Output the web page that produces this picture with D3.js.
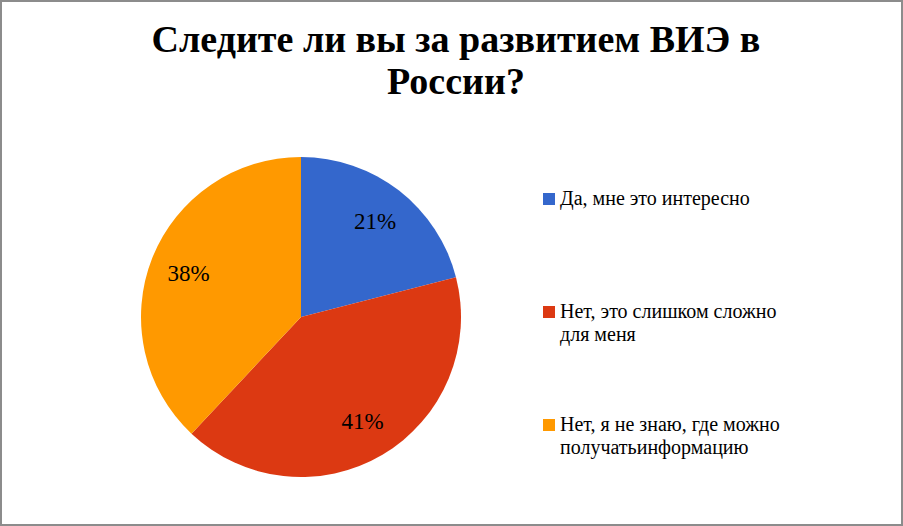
<!DOCTYPE html>
<html><head><meta charset="utf-8"><script src="https://cdn.jsdelivr.net/npm/d3@7"></script></head>
<body style="margin:0">
<svg class="chart"></svg>
<script>
// pie chart: Следите ли вы за развитием ВИЭ в России?

var categories = [
  ["Да, мне это интересно"],
  ["Нет, это слишком сложно", "для меня"],
  ["Нет, я не знаю, где можно", "получатьинформацию"]
];
var values = [21, 41, 38];
var colors = ["#3467CC", "#DC3912", "#FF9900"];
var titleLines = ["Следите ли вы за развитием ВИЭ в", "России?"];

var width = 903;
var height = 526;
var radius = 160;
var center = { x: 301, y: 317 };
var serif = function() { return "'Liberation Serif'" };

var data = values.map(function(v, i) { return { name: categories[i], value: v, color: colors[i] } });

var svg = d3.select(".chart")
  .attr("width", width)
  .attr("height", height);

// outer frame
svg.append("rect")
  .attr("x", 1)
  .attr("y", 1)
  .attr("width", width - 2)
  .attr("height", height - 2)
  .attr("fill", "#fff")
  .attr("stroke", "#8c8c8c")
  .attr("stroke-width", 2);

// title, one text per line
svg.selectAll(".title")
  .data(titleLines)
  .join("text")
  .attr("class", "title")
  .attr("x", 456)
  .attr("y", function(d, i) { return 52 + i * 42 })
  .attr("text-anchor", "middle")
  .attr("font-weight", "bold")
  .attr("font-size", 38)
  .style("font-family", serif)
  .text(function(d) { return d });

var pie = d3.pie()
  .sort(null)
  .value(function(d) { return d.value });

var arc = d3.arc().innerRadius(0).outerRadius(radius);
var labelArc = d3.arc().innerRadius(121).outerRadius(121);

var g = svg.append("g")
  .attr("transform", "translate(" + center.x + "," + center.y + ")");

var arcs = pie(data);

g.selectAll("path")
  .data(arcs)
  .join("path")
  .attr("d", arc)
  .attr("fill", function(d) { return d.data.color });

g.selectAll("text")
  .data(arcs)
  .join("text")
  .attr("transform", function(d) { return "translate(" + labelArc.centroid(d) + ")" })
  .attr("text-anchor", "middle")
  .attr("dy", "0.35em")
  .attr("font-size", 23)
  .style("font-family", serif)
  .text(function(d) { return d.data.value + "%" });

// legend
var legendY = d3.scalePoint()
  .domain(d3.range(data.length))
  .range([199, 425]);

var item = svg.append("g")
  .selectAll("g")
  .data(data)
  .join("g")
  .attr("transform", function(d, i) { return "translate(543," + legendY(i) + ")" });

item.append("rect")
  .attr("y", -6)
  .attr("width", 12)
  .attr("height", 12)
  .attr("fill", function(d) { return d.color });

// each legend line as its own text element
item.selectAll("text")
  .data(function(d) { return d.name })
  .join("text")
  .attr("x", 17)
  .attr("y", function(d, i) { return 6 + i * 23 })
  .attr("font-size", 20)
  .style("font-family", serif)
  .text(function(d) { return d });
</script></body></html>
